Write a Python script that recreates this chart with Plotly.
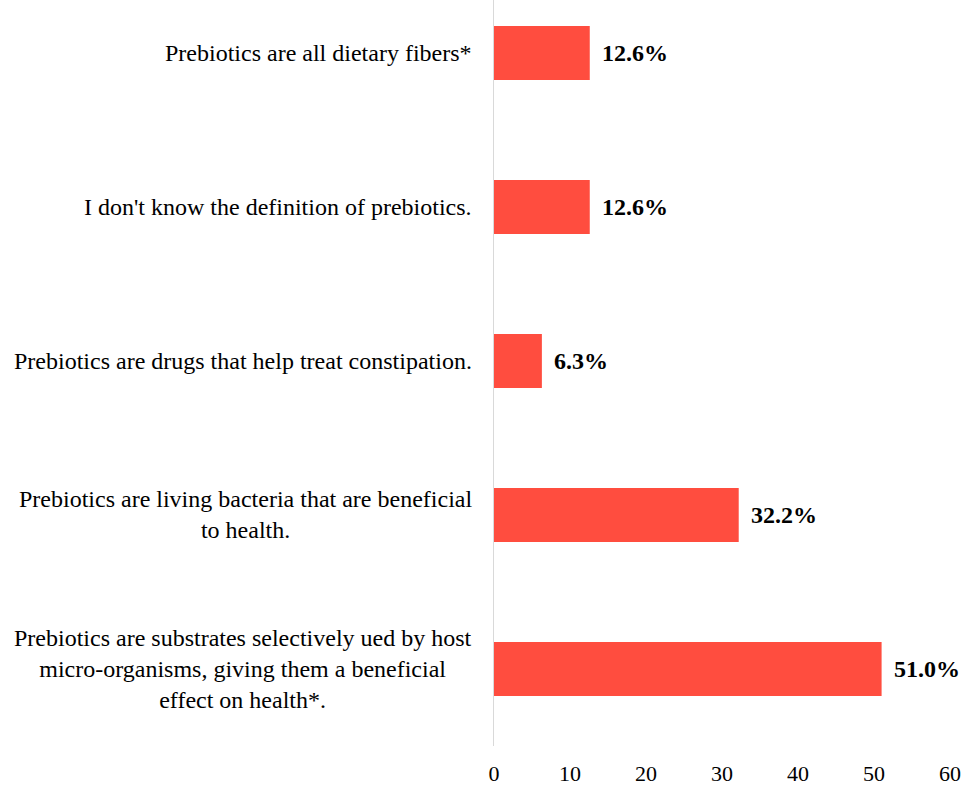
import plotly.graph_objects as go

categories = [
    "Prebiotics are substrates selectively ued by host<br>micro-organisms, giving them a beneficial<br>effect on health*.",
    "Prebiotics are living bacteria that are beneficial<br>to health.",
    "Prebiotics are drugs that help treat constipation.",
    "I don't know the definition of prebiotics.",
    "Prebiotics are all dietary fibers*",
]
values = [51.0, 32.2, 6.3, 12.6, 12.6]
x_ticks = [0, 10, 20, 30, 40, 50, 60]

FONT = "Liberation Serif, Times New Roman, serif"
BAR = "#FF4D3F"

pos = list(range(len(categories)))

fig = go.Figure(go.Bar(
    x=values, y=pos, orientation="h",
    marker=dict(color=BAR, line=dict(width=0)),
    width=0.35,
))

annotations = []
for p, c, v in zip(pos, categories, values):
    annotations.append(dict(
        x=0, xref="paper", y=p, yref="y", text=c, showarrow=False,
        xanchor="right", yanchor="middle", align="center", xshift=-20,
        font=dict(family=FONT, size=24, color="#000000"),
    ))
    annotations.append(dict(
        x=v, xref="x", y=p, yref="y", text=f"<b>{v:.1f}%</b>", showarrow=False,
        xanchor="left", yanchor="middle", xshift=10,
        font=dict(family=FONT, size=24, color="#000000"),
    ))

fig.update_layout(
    width=966, height=787,
    margin=dict(l=494, r=16, t=0, b=41),
    paper_bgcolor="white", plot_bgcolor="white",
    showlegend=False,
    font=dict(family=FONT, size=24, color="#000000"),
    annotations=annotations,
    xaxis=dict(
        range=[0, 60], tickvals=x_ticks, showgrid=False, zeroline=False,
        showline=False, ticks="", tickfont=dict(family=FONT, size=22, color="#000000"),
        ticklabelstandoff=12, fixedrange=True,
    ),
    yaxis=dict(
        range=[-0.5, 4.344], showticklabels=False, showgrid=False, zeroline=False,
        showline=True, linecolor="#D9D9D9", linewidth=1, ticks="", fixedrange=True,
    ),
)

fig.write_html("out.html")
